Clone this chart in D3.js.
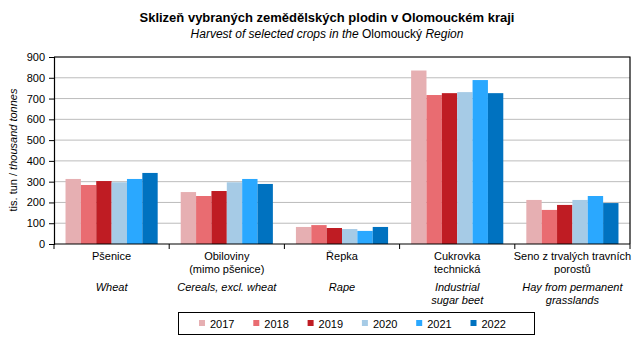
<!DOCTYPE html>
<html>
<head>
<meta charset="utf-8">
<script src="https://cdn.jsdelivr.net/npm/d3@7"></script>
<style>
  body { margin: 0; background: #fff; }
  svg text { font-family: "Liberation Sans", Arial, sans-serif; fill: #000; }
</style>
</head>
<body>
<div id="chart"></div>
<script>
const categoriesCz = [["Pšenice"], ["Obiloviny", "(mimo pšenice)"], ["Řepka"], ["Cukrovka", "technická"], ["Seno z trvalých travních", "porostů"]];
const categoriesEn = [["Wheat"], ["Cereals, excl. wheat"], ["Rape"], ["Industrial", "sugar beet"], ["Hay from permanent", "grasslands"]];
const years = ["2017", "2018", "2019", "2020", "2021", "2022"];
const colors = ["#e6afb2", "#e96c71", "#bf1c23", "#a6cbe6", "#2aa8ff", "#0072c0"];
// thousand tonnes, one array per year, in category order
const v2017 = [313, 250, 82, 835, 212];
const v2018 = [284, 231, 91, 717, 164];
const v2019 = [303, 255, 77, 726, 188];
const v2020 = [297, 297, 72, 731, 212];
const v2021 = [313, 313, 63, 789, 231];
const v2022 = [342, 289, 82, 726, 197];
const series = [v2017, v2018, v2019, v2020, v2021, v2022];
const yTicks = [0, 100, 200, 300, 400, 500, 600, 700, 800, 900];

const W = 643, H = 340;
const plotL = 54, plotR = 630, plotT = 57, plotB = 244;

const svg = d3.select("#chart").append("svg").attr("width", W).attr("height", H);

svg.append("text").attr("x", 327).attr("y", 22).attr("text-anchor", "middle")
  .style("font-size", "13px").style("font-weight", "bold")
  .text("Sklizeň vybraných zemědělských plodin v Olomouckém kraji");
let sub = svg.append("text").attr("x", 327).attr("y", 38).attr("text-anchor", "middle")
  .style("font-size", "12px");
sub.append("tspan").style("font-style", "italic").text("Harvest of selected crops in the ");
sub.append("tspan").text("Olomoucký ");
sub.append("tspan").style("font-style", "italic").text("Region");

const x0 = d3.scaleBand().domain(d3.range(categoriesCz.length)).range([plotL, plotR]).paddingInner(0).paddingOuter(0);
// bars of a group fill the middle 80% of each category slot
const x1 = d3.scaleBand().domain(years).range([0, x0.bandwidth()]).paddingOuter(0.75).paddingInner(0);
const y = d3.scaleLinear().domain([0, 900]).range([plotB, plotT]);

// gridlines
svg.append("g").selectAll("line").data(yTicks.filter(d => d > 0)).enter().append("line")
  .attr("x1", plotL).attr("x2", plotR)
  .attr("y1", d => y(d)).attr("y2", d => y(d))
  .attr("stroke", "#bcbcbc").attr("stroke-width", 1);

// bars
const groups = svg.append("g").selectAll("g").data(categoriesCz).enter().append("g")
  .attr("transform", (d, i) => `translate(${x0(i)},0)`);
groups.selectAll("rect").data((d, i) => series.map((s, k) => ({ year: years[k], value: s[i], k }))).enter()
  .append("rect")
  .attr("x", d => x1(d.year))
  .attr("width", x1.bandwidth())
  .attr("y", d => y(d.value))
  .attr("height", d => plotB - y(d.value))
  .attr("fill", d => colors[d.k]);

// plot border (top and right)
svg.append("path").attr("d", `M${plotL},${plotT}H${plotR}V${plotB}`)
  .attr("fill", "none").attr("stroke", "#000").attr("stroke-width", 1.2);

// y axis
const yAxis = svg.append("g").attr("transform", `translate(${plotL},0)`)
  .call(d3.axisLeft(y).tickValues(yTicks).tickSize(5).tickPadding(4));
yAxis.select(".domain").attr("stroke", "#000").attr("stroke-width", 1.2);
yAxis.selectAll("text").style("font-size", "11px").style("font-family", "Liberation Sans, Arial, sans-serif");

// x axis with ticks at category boundaries
const xAxis = svg.append("g");
xAxis.append("line").attr("x1", plotL).attr("x2", plotR).attr("y1", plotB).attr("y2", plotB)
  .attr("stroke", "#000").attr("stroke-width", 1.2);
xAxis.selectAll(".tk").data(d3.range(categoriesCz.length + 1)).enter().append("line")
  .attr("x1", i => plotL + i * x0.bandwidth()).attr("x2", i => plotL + i * x0.bandwidth())
  .attr("y1", plotB).attr("y2", plotB + 5)
  .attr("stroke", "#000").attr("stroke-width", 1);

// y axis title
const yt = svg.append("text").attr("transform", "translate(17,150) rotate(-90)")
  .attr("text-anchor", "middle").style("font-size", "11px");
yt.append("tspan").text("tis. tun / ");
yt.append("tspan").style("font-style", "italic").text("thousand tonnes");

// category labels
categoriesCz.forEach((lines, i) => {
  const cx = x0(i) + x0.bandwidth() / 2;
  lines.forEach((t, j) => {
    svg.append("text").attr("x", cx).attr("y", 260 + j * 13).attr("text-anchor", "middle")
      .style("font-size", "11px").text(t);
  });
  categoriesEn[i].forEach((t, j) => {
    svg.append("text").attr("x", cx).attr("y", 291 + j * 13).attr("text-anchor", "middle")
      .style("font-size", "11px").style("font-style", "italic").text(t);
  });
});

// legend
const legend = svg.append("g");
legend.append("rect").attr("x", 178.5).attr("y", 312.5).attr("width", 356).attr("height", 22)
  .attr("fill", "#fff").attr("stroke", "#000").attr("stroke-width", 1);
const items = legend.selectAll("g").data(years).enter().append("g")
  .attr("transform", (d, i) => `translate(${199 + i * 54.3},0)`);
items.append("rect").attr("x", 0).attr("y", 320).attr("width", 6).attr("height", 6)
  .attr("fill", (d, i) => colors[i]);
items.append("text").attr("x", 11).attr("y", 328).style("font-size", "11px").text(d => d);
</script>
</body>
</html>
